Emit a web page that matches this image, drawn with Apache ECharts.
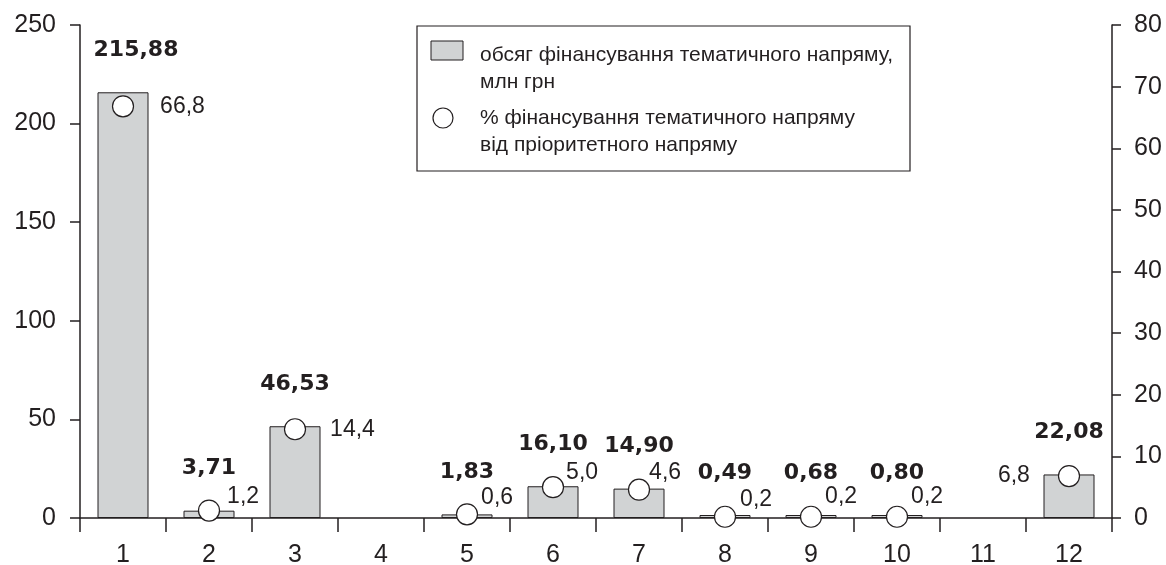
<!DOCTYPE html>
<html><head><meta charset="utf-8">
<script src="https://cdn.jsdelivr.net/npm/echarts@6/dist/echarts.min.js"></script>
<style>html,body{margin:0;padding:0;background:#fff}#c{width:1166px;height:565px}</style>
</head><body><div id="c"></div>
<script>
// ---- data ----
const categories = ['1','2','3','4','5','6','7','8','9','10','11','12'];
const fundingMln = [215.88, 3.71, 46.53, null, 1.83, 16.10, 14.90, 0.49, 0.68, 0.80, null, 22.08];
const fundingPct = [66.8, 1.2, 14.4, null, 0.6, 5.0, 4.6, 0.2, 0.2, 0.2, null, 6.8];
const leftAxisTicks = [0, 50, 100, 150, 200, 250];
const rightAxisTicks = [0, 10, 20, 30, 40, 50, 60, 70, 80];
const legendBarText = ['обсяг фінансування тематичного напряму,', 'млн грн'];
const legendPctText = ['% фінансування тематичного напряму', 'від пріоритетного напряму'];

// ---- styling (not data) ----
const INK = '#231f20';
const BAR_FILL = '#d1d3d4';
const FONT = '"Liberation Sans", Arial, Helvetica, sans-serif';
const barLabelOffset = [[13,0],[0,0],[0,0],[0,0],[0,0],[0,0],[0,0],[0,0],[0,0],[0,0],[0,0],[0,0]];
const pctLabelPos = ['right','right','right','right','right','right','right','right','right','right','right','left'];
const pctLabelOffset = [[26,0],[7,-14],[24,0],[0,0],[3,-17],[2,-15],[-1,-17],[4,-17],[3,-20],[3,-20],[0,0],[-28,0]];

const fmt = (v, d) => v.toFixed(d).replace('.', ',');

const barData = fundingMln.map((v, i) => v == null ? '-' : ({
  value: v,
  label: { offset: barLabelOffset[i] }
}));
const pctData = fundingPct.map((v, i) => v == null ? '-' : ({
  value: v,
  label: { position: pctLabelPos[i], offset: pctLabelOffset[i] }
}));

const chart = echarts.init(document.getElementById('c'), null, {renderer: 'canvas'});
const legendX = 417, legendY = 26;
chart.setOption({
  animation: false,
  backgroundColor: '#fff',
  grid: { left: 80, right: 54, top: 25, bottom: 47, containLabel: false, outerBoundsMode: 'none' },
  xAxis: {
    type: 'category',
    data: categories,
    boundaryGap: true,
    axisLine: { lineStyle: { color: INK, width: 1.5 } },
    axisTick: { show: true, alignWithLabel: false, length: 14, lineStyle: { color: INK, width: 1.5 } },
    axisLabel: { color: INK, fontSize: 25, fontFamily: FONT, margin: 25 },
    splitLine: { show: false }
  },
  yAxis: [{
    type: 'value', position: 'left',
    min: leftAxisTicks[0], max: leftAxisTicks[leftAxisTicks.length-1],
    interval: leftAxisTicks[1] - leftAxisTicks[0],
    axisLine: { show: true, lineStyle: { color: INK, width: 1.5 } },
    axisTick: { show: true, length: 10, lineStyle: { color: INK, width: 1.5 } },
    axisLabel: { color: INK, fontSize: 25, fontFamily: FONT, margin: 24 },
    splitLine: { show: false }
  }, {
    type: 'value', position: 'right',
    min: rightAxisTicks[0], max: rightAxisTicks[rightAxisTicks.length-1],
    interval: rightAxisTicks[1] - rightAxisTicks[0],
    axisLine: { show: true, lineStyle: { color: INK, width: 1.5 } },
    axisTick: { show: true, length: 9, lineStyle: { color: INK, width: 1.5 } },
    axisLabel: { color: INK, fontSize: 25, fontFamily: FONT, margin: 22 },
    splitLine: { show: false }
  }],
  series: [{
    name: 'обсяг фінансування тематичного напряму, млн грн',
    type: 'bar',
    yAxisIndex: 0,
    data: barData,
    barWidth: 51,
    barMinHeight: 3,
    itemStyle: { color: BAR_FILL, borderColor: INK, borderWidth: 1 },
    label: {
      show: true, position: 'top', distance: 31,
      fontFamily: '"DejaVu Sans", Verdana, sans-serif', fontWeight: 'bold', fontSize: 22, color: INK,
      formatter: p => fmt(p.value, 2)
    },
    z: 2
  }, {
    name: '% фінансування тематичного напряму від пріоритетного напряму',
    type: 'scatter',
    yAxisIndex: 1,
    data: pctData,
    symbol: 'circle',
    symbolSize: 21,
    itemStyle: { color: '#fff', borderColor: INK, borderWidth: 1.2, opacity: 1 },
    label: {
      show: true, distance: 0,
      fontFamily: FONT, fontSize: 23, color: INK,
      formatter: p => fmt(p.value, 1)
    },
    z: 5
  }],
  graphic: [
    { type: 'rect', shape: { x: legendX, y: legendY, width: 493, height: 145 },
      style: { fill: '#fff', stroke: INK, lineWidth: 1.2 }, z: 10 },
    { type: 'rect', shape: { x: 431, y: 41, width: 32, height: 19 },
      style: { fill: BAR_FILL, stroke: INK, lineWidth: 1 }, z: 11 },
    { type: 'circle', shape: { cx: 443, cy: 118, r: 10 },
      style: { fill: '#fff', stroke: INK, lineWidth: 1.2 }, z: 11 },
    { type: 'text', x: 480, y: 55, style: { text: legendBarText[0], fill: INK, font: '21px ' + FONT, verticalAlign: 'middle' }, z: 11 },
    { type: 'text', x: 480, y: 82, style: { text: legendBarText[1], fill: INK, font: '21px ' + FONT, verticalAlign: 'middle' }, z: 11 },
    { type: 'text', x: 480, y: 118, style: { text: legendPctText[0], fill: INK, font: '21px ' + FONT, verticalAlign: 'middle' }, z: 11 },
    { type: 'text', x: 480, y: 145, style: { text: legendPctText[1], fill: INK, font: '21px ' + FONT, verticalAlign: 'middle' }, z: 11 }
  ]
});
</script>
</body></html>
